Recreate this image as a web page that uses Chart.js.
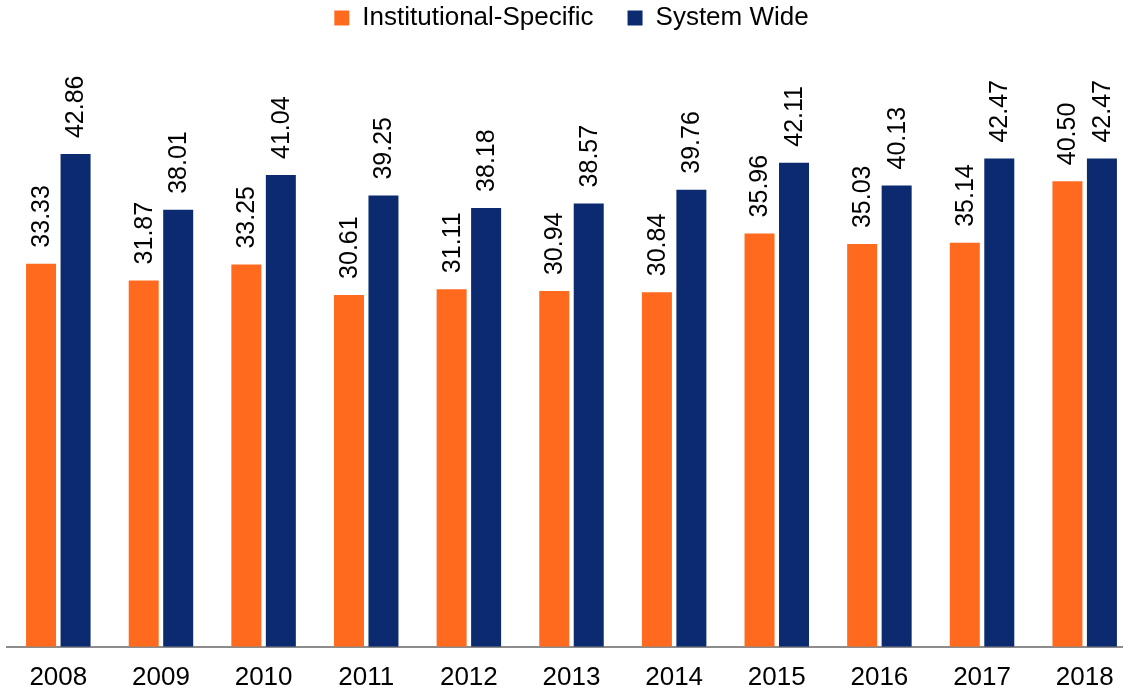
<!DOCTYPE html>
<html>
<head>
<meta charset="utf-8">
<script src="https://cdn.jsdelivr.net/npm/chart.js@4"></script>
<style>
  html, body { margin: 0; padding: 0; background: #fff; overflow: hidden; }
  #wrap { width: 1137px; height: 693px; }
</style>
</head>
<body>
<div id="wrap"><canvas id="barChart" width="1137" height="693"></canvas></div>
<script>
var years = ['2008', '2009', '2010', '2011', '2012', '2013', '2014', '2015', '2016', '2017', '2018'];
var institutional = [33.33, 31.87, 33.25, 30.61, 31.11, 30.94, 30.84, 35.96, 35.03, 35.14, 40.50];
var systemWide = [42.86, 38.01, 41.04, 39.25, 38.18, 38.57, 39.76, 42.11, 40.13, 42.47, 42.47];

var fontFamily = '"Liberation Sans", Arial, sans-serif';

// draws the value above each bar, turned on its side
var valueLabels = {
    id: 'valueLabels',
    afterDatasetsDraw: function(chart) {
        var ctx = chart.ctx;
        ctx.save();
        ctx.font = '25px ' + fontFamily;
        ctx.fillStyle = '#000';
        ctx.textAlign = 'left';
        ctx.textBaseline = 'middle';
        chart.data.datasets.forEach(function(ds, i) {
            chart.getDatasetMeta(i).data.forEach(function(bar, j) {
                ctx.save();
                ctx.translate(bar.x + 1, bar.y - 16);
                ctx.rotate(-Math.PI / 2);
                ctx.fillText(ds.data[j].toFixed(2), 0, 0);
                ctx.restore();
            });
        });
        ctx.restore();
    }
};

// extra room under the legend
var legendSpace = {
    id: 'legendSpace',
    beforeInit: function(chart) {
        var fit = chart.legend.fit;
        chart.legend.fit = function() {
            fit.bind(chart.legend)();
            this.height += 31;
        };
    }
};

document.addEventListener('DOMContentLoaded', function() {
    var ctx = document.getElementById('barChart');
    new Chart(ctx, {
        type: 'bar',
        data: {
            labels: years,
            datasets: [{
                label: 'Institutional-Specific',
                data: institutional,
                backgroundColor: '#FF6A1E',
                categoryPercentage: 0.672,
                barPercentage: 0.87
            }, {
                label: 'System Wide',
                data: systemWide,
                backgroundColor: '#0B2A70',
                categoryPercentage: 0.672,
                barPercentage: 0.87
            }]
        },
        options: {
            responsive: false,
            animation: false,
            layout: { padding: { left: 7, right: 1, top: -29, bottom: -15 } },
            scales: {
                x: {
                    grid: { display: false, drawTicks: false },
                    border: { display: true, color: '#8c8c8c', width: 2 },
                    ticks: {
                        color: '#000',
                        padding: 15,
                        font: { size: 26, family: fontFamily }
                    }
                },
                y: {
                    display: false,
                    min: 0,
                    max: 50
                }
            },
            plugins: {
                legend: {
                    position: 'top',
                    labels: {
                        color: '#000',
                        boxWidth: 15,
                        boxHeight: 15,
                        padding: 34,
                        font: { size: 26, family: fontFamily }
                    }
                },
                tooltip: { enabled: false }
            }
        },
        plugins: [valueLabels, legendSpace]
    });
});
</script>
</body>
</html>
